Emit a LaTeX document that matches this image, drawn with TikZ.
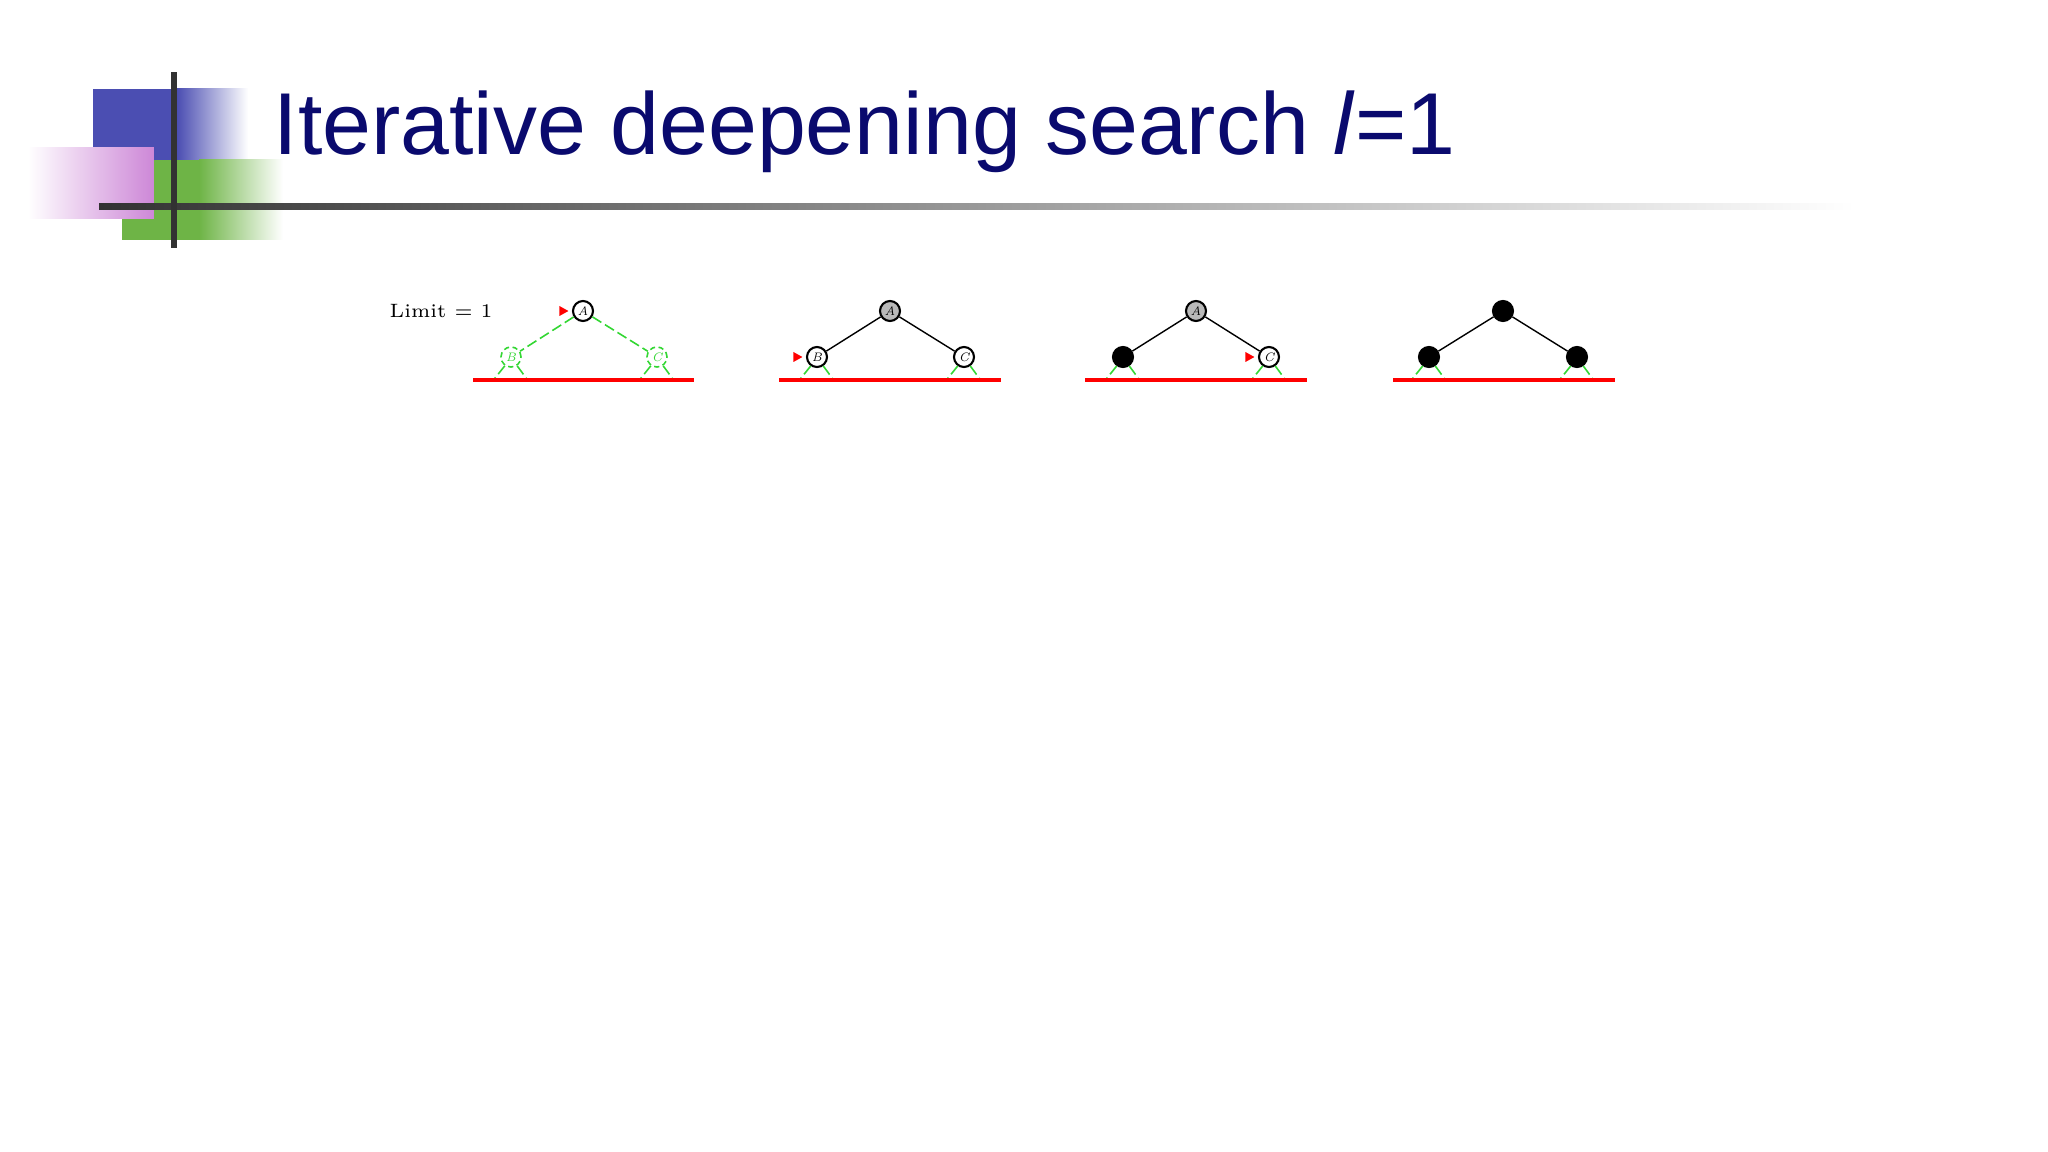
\documentclass[tikz,border=0pt]{standalone}
\usepackage{fontspec}
\usepackage{tikz}
\usetikzlibrary{shapes}
\usetikzlibrary{arrows}
\usetikzlibrary{positioning}
\usetikzlibrary{calc}
\newfontfamily\titlefont{Liberation Sans}
\definecolor{titre}{RGB}{10,10,110}
\definecolor{bleu}{RGB}{75,78,178}
\definecolor{vertfonce}{RGB}{110,180,70}
\definecolor{rose}{RGB}{205,135,215}
\definecolor{trait}{RGB}{50,50,50}
\definecolor{vert}{RGB}{50,215,50}
\tikzstyle{noeud}=[circle,draw=black,line width=0.6pt,fill=white,
minimum size=0.2cm,inner sep=0pt,font=\fontsize{3.5}{4}\selectfont\itshape]
\tikzstyle{gris}=[noeud,fill=gray!55]
\tikzstyle{noir}=[noeud,fill=black]
\tikzstyle{frontiere}=[noeud,draw=vert,fill=none,text=vert,line width=0.45pt,
dash pattern=on 1.5pt off 1pt]
\tikzstyle{arete}=[draw=black,line width=0.4pt]
\tikzstyle{aretevert}=[draw=vert,line width=0.45pt,dash pattern=on 3pt off 1.2pt]
\tikzstyle{limite}=[draw=red,line width=1.1pt]
\tikzstyle{marque}=[fill=red]

\begin{document}
\begin{tikzpicture}
\useasboundingbox[fill=white] (0,0) rectangle (20.48,-11.52);
%Decor du titre
\fill[bleu] (0.93,-0.89) rectangle (1.78,-1.60);
\shade[left color=bleu,right color=white] (1.77,-0.89) rectangle (2.48,-1.60);
\fill[vertfonce] (1.22,-1.60) rectangle (2.00,-2.40);
\shade[left color=vertfonce,right color=white] (1.99,-1.60) rectangle (2.83,-2.40);
\shade[left color=white,right color=rose] (0.28,-1.48) rectangle (1.54,-2.19);
\shade[left color=trait,middle color=black!55,right color=white] (0.99,-2.035) rectangle (18.55,-2.095);
\fill[trait] (1.71,-0.72) rectangle (1.77,-2.48);
\node[anchor=base west,inner sep=0pt,text=titre,font=\titlefont\fontsize{25}{30}\selectfont]
 (titre) at (2.73,-1.55) {Iterative deepening search \textit{l}=1};
\node[anchor=base west,inner sep=0pt,font=\fontsize{5.5}{6}\selectfont] (lim) at (3.89,-3.18) {Limit = 1};
%Arbre 1
\node[noeud] (a1) at (5.83,-3.11) {A};
\node[frontiere] (b1) at (5.11,-3.57) {B};
\node[frontiere] (c1) at (6.57,-3.57) {C};
\coordinate (g1) at (4.73,-3.80);
\coordinate (d1) at (6.94,-3.80);
\draw[aretevert] (a1) -- (b1);
\draw[aretevert] (a1) -- (c1);
\draw[aretevert] (b1.-125) -- ++(-0.12,-0.15);
\draw[aretevert] (b1.-55) -- ++(0.11,-0.15);
\draw[aretevert] (c1.-125) -- ++(-0.12,-0.15);
\draw[aretevert] (c1.-55) -- ++(0.11,-0.15);
\draw[limite] (g1) -- (d1);
\fill[marque] ([xshift=-1pt]a1.west) -- ++(-0.09,0.05) -- ++(0,-0.10) -- cycle;
%Arbre 2
\node[gris] (a2) at (8.90,-3.11) {A};
\node[noeud] (b2) at (8.17,-3.57) {B};
\node[noeud] (c2) at (9.64,-3.57) {C};
\coordinate (g2) at (7.79,-3.80);
\coordinate (d2) at (10.01,-3.80);
\draw[arete] (a2) -- (b2);
\draw[arete] (a2) -- (c2);
\draw[aretevert] (b2.-125) -- ++(-0.12,-0.15);
\draw[aretevert] (b2.-55) -- ++(0.11,-0.15);
\draw[aretevert] (c2.-125) -- ++(-0.12,-0.15);
\draw[aretevert] (c2.-55) -- ++(0.11,-0.15);
\draw[limite] (g2) -- (d2);
\fill[marque] ([xshift=-1pt]b2.west) -- ++(-0.09,0.05) -- ++(0,-0.10) -- cycle;
%Arbre 3
\node[gris] (a3) at (11.96,-3.11) {A};
\node[noir] (b3) at (11.23,-3.57) {};
\node[noeud] (c3) at (12.69,-3.57) {C};
\coordinate (g3) at (10.85,-3.80);
\coordinate (d3) at (13.07,-3.80);
\draw[arete] (a3) -- (b3);
\draw[arete] (a3) -- (c3);
\draw[aretevert] (b3.-125) -- ++(-0.12,-0.15);
\draw[aretevert] (b3.-55) -- ++(0.11,-0.15);
\draw[aretevert] (c3.-125) -- ++(-0.12,-0.15);
\draw[aretevert] (c3.-55) -- ++(0.11,-0.15);
\draw[limite] (g3) -- (d3);
\fill[marque] ([xshift=-1pt]c3.west) -- ++(-0.09,0.05) -- ++(0,-0.10) -- cycle;
%Arbre 4
\node[noir] (a4) at (15.03,-3.11) {};
\node[noir] (b4) at (14.29,-3.57) {};
\node[noir] (c4) at (15.77,-3.57) {};
\coordinate (g4) at (13.93,-3.80);
\coordinate (d4) at (16.15,-3.80);
\draw[arete] (a4) -- (b4);
\draw[arete] (a4) -- (c4);
\draw[aretevert] (b4.-125) -- ++(-0.12,-0.15);
\draw[aretevert] (b4.-55) -- ++(0.11,-0.15);
\draw[aretevert] (c4.-125) -- ++(-0.12,-0.15);
\draw[aretevert] (c4.-55) -- ++(0.11,-0.15);
\draw[limite] (g4) -- (d4);
\end{tikzpicture}
\end{document}
